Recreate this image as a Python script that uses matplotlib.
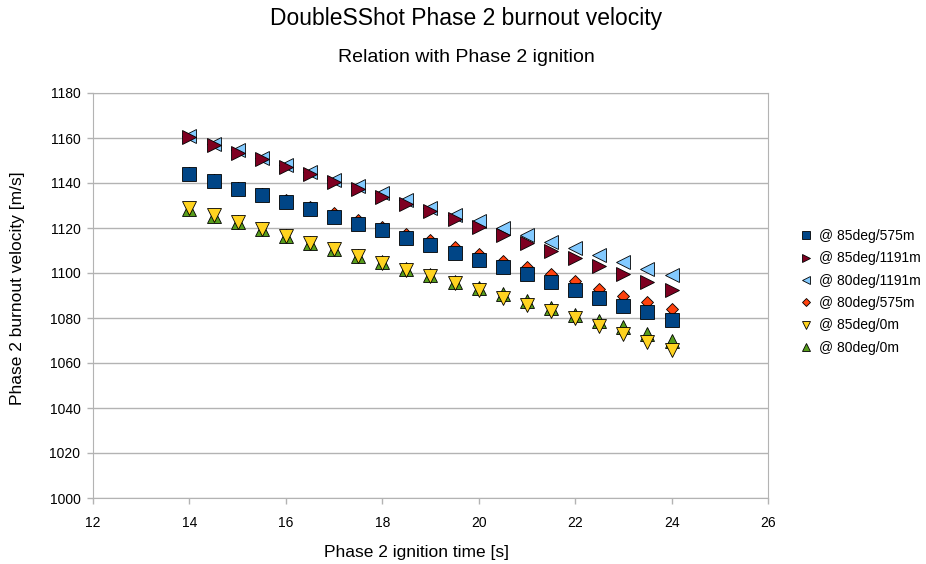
import numpy as np
import matplotlib
matplotlib.use("Agg")
from matplotlib import pyplot as plt

plt.rcParams['font.family'] = ['Liberation Sans', 'DejaVu Sans']

# ignition times [s]
t_ign = np.arange(14, 24.01, 0.5)

# burnout velocities [m/s]
v_85_575 = [1144, 1141, 1137.5, 1134.5, 1131.5, 1128.5, 1125, 1122, 1119, 1115.5, 1112.5,
            1109, 1106, 1102.5, 1099.5, 1096, 1092.5, 1089, 1085.5, 1082.5, 1079]
v_85_1191 = [1160.5, 1157, 1153.5, 1150.5, 1147, 1144, 1140.5, 1137.5, 1134, 1130.5, 1127.5,
             1124, 1120.5, 1117, 1113.5, 1110, 1106.5, 1103, 1099.5, 1096, 1092.5]
v_80_1191 = [1161, 1157.5, 1154.5, 1151, 1148, 1145, 1141.5, 1138.5, 1135.5, 1132.5, 1129,
             1126, 1123, 1120, 1117, 1114, 1111, 1108, 1105, 1102, 1099]
v_80_575 = [1144.5, 1141.5, 1138, 1135, 1132.5, 1129.5, 1126.5, 1123.5, 1120.5, 1117.5, 1114.5,
            1111.5, 1108.5, 1105.5, 1102.5, 1099.5, 1096.5, 1093, 1090, 1087, 1084]
v_85_0 = [1129, 1126, 1122.5, 1119.5, 1116.5, 1113.5, 1110.5, 1107.5, 1104.5, 1101.5, 1098.5,
          1095.5, 1092.5, 1089, 1086, 1083, 1080, 1076.5, 1073, 1069.5, 1066]
v_80_0 = [1128.5, 1125.5, 1122.5, 1119.5, 1116.5, 1113.5, 1110.5, 1107.5, 1105, 1102, 1099,
          1096, 1093.5, 1090.5, 1087.5, 1084.5, 1081.5, 1078.5, 1076, 1073, 1070]

labels = ["@ 85deg/575m", "@ 85deg/1191m", "@ 80deg/1191m",
          "@ 80deg/575m", "@ 85deg/0m", "@ 80deg/0m"]
series = [v_85_575, v_85_1191, v_80_1191, v_80_575, v_85_0, v_80_0]
markers = ['s', '>', '<', 'D', 'v', '^']
sizes = [9.5, 10, 10, 6.5, 9.5, 9.5]
colors = ['#004586', '#7e0021', '#83caff', '#ff420e', '#ffd320', '#579d1c']

fig = plt.figure(figsize=(9.26, 5.64), dpi=100)
ax = fig.add_axes([93 / 926, 1 - 498 / 564, 675 / 926, 405 / 564])

handles = [None] * len(series)
# draw last series first so the first one ends up on top
for i in reversed(range(len(series))):
    h, = ax.plot(t_ign, series[i], linestyle='none', marker=markers[i],
                 markersize=sizes[i], markerfacecolor=colors[i],
                 markeredgecolor='black', markeredgewidth=0.6, label=labels[i])
    handles[i] = h

ax.set_xlim(12, 26)
ax.set_ylim(1000, 1180)
ax.set_xticks(np.arange(12, 26.1, 2))
ax.set_yticks(np.arange(1000, 1181, 20))
ax.yaxis.grid(True, color='#b3b3b3', linewidth=1)
ax.set_axisbelow(True)
for s in ax.spines.values():
    s.set_color('#b3b3b3')
ax.tick_params(colors='#b3b3b3', labelcolor='black', labelsize=10, length=4, width=1)
ax.tick_params(axis='x', pad=9)
ax.tick_params(axis='y', pad=5)

# axis titles placed directly, like the original layout
fig.text(417 / 926, 1 - 552 / 564, "Phase 2 ignition time [s]",
         ha='center', va='center', fontsize=12.5)
fig.text(18 / 926, 1 - 288 / 564, "Phase 2 burnout velocity [m/s]",
         ha='center', va='center', rotation=90, fontsize=12.5)

fig.text(466 / 926, 1 - 18 / 564, "DoubleSShot Phase 2 burnout velocity",
         ha='center', va='center', fontsize=16.5)
fig.text(466 / 926, 1 - 57 / 564, "Relation with Phase 2 ignition",
         ha='center', va='center', fontsize=14)

leg = fig.legend(handles=handles, labels=labels, loc='center left',
                 bbox_to_anchor=(788 / 926, 1 - 292 / 564), frameon=False,
                 fontsize=10, markerscale=0.6, handlelength=0.8,
                 handletextpad=0.5, labelspacing=0.6)

fig.savefig("out.png", dpi=100)
